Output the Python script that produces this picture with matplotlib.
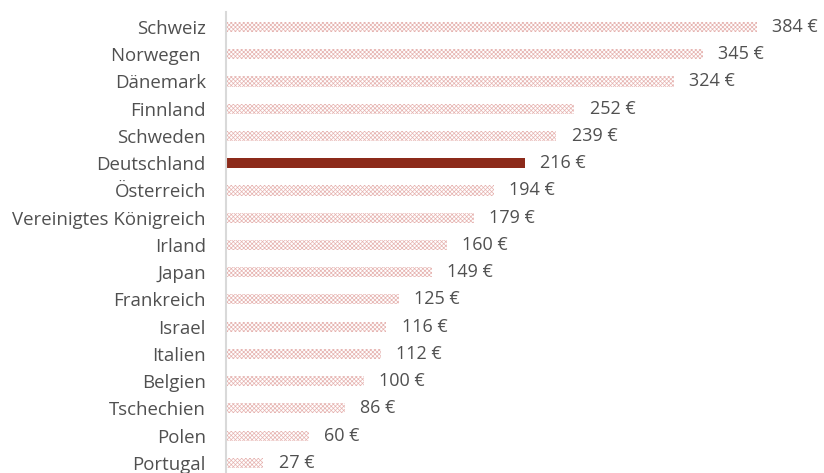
import matplotlib.pyplot as plt

plt.rcParams['font.family'] = ['Open Sans', 'DejaVu Sans']
plt.rcParams['hatch.linewidth'] = 0.5

countries = ['Schweiz', 'Norwegen ', 'Dänemark', 'Finnland', 'Schweden', 'Deutschland',
             'Österreich', 'Vereinigtes Königreich', 'Irland', 'Japan', 'Frankreich',
             'Israel', 'Italien', 'Belgien', 'Tschechien', 'Polen', 'Portugal']
values = [384, 345, 324, 252, 239, 216, 194, 179, 160, 149, 125, 116, 112, 100, 86, 60, 27]
highlight = 'Deutschland'

fig = plt.figure(figsize=(8.24, 4.73), dpi=100)
ax = fig.add_axes([226 / 824, 0, 1 - 226 / 824, 1 - 12 / 473])

pos = list(range(len(countries)))
for i, (c, v) in enumerate(zip(countries, values)):
    if c == highlight:
        ax.barh(i, v, height=0.37, color='#8c2a1a', linewidth=0)
    else:
        ax.barh(i, v, height=0.37, facecolor='white', edgecolor='#e6b3b0',
                hatch='xxxxxxxx', linewidth=0)
    ax.text(v + 11, i, f'{v} €', va='center', ha='left', fontsize=13, color='#505050')

ax.set_xlim(0, (824 - 226) / ((757 - 226) / 384))
ax.set_ylim(16.37, -0.55)
ax.set_yticks(pos)
ax.set_yticklabels(countries, fontsize=13.4, color='#505050')
ax.tick_params(axis='y', length=0, pad=14.5)
ax.set_xticks([])
for s in ['top', 'right', 'bottom']:
    ax.spines[s].set_visible(False)
ax.spines['left'].set_color('#d9d9d9')
ax.spines['left'].set_linewidth(1.5)

fig.savefig('out.png', dpi=100)
